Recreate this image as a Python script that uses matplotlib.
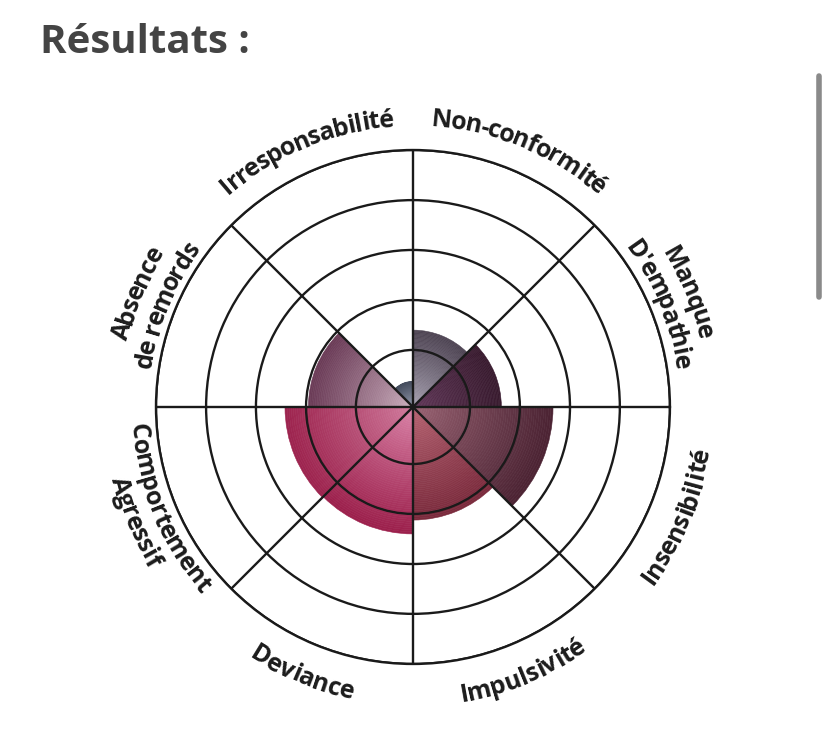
import numpy as np
import matplotlib
matplotlib.use("Agg")
import matplotlib.pyplot as plt
from matplotlib.colors import to_rgb
from matplotlib.font_manager import FontProperties, findfont, get_font
from matplotlib.ft2font import LoadFlags
from matplotlib.lines import Line2D

# secteurs dans l'ordre trigonométrique à partir de l'est (0°)
categories = ["Manque\nD'empathie", "Non-conformité", "Irresponsabilité",
              "Absence\nde remords", "Comportement\nAgressif", "Deviance",
              "Impulsivité", "Insensibilité"]
scores = [34.4, 29.9, 10.0, 40.7, 49.8, 49.4, 44.0, 54.5]   # échelle 0-100
anneaux = [22.2, 41.6, 61.1, 80.5, 100]

couleurs_centre = ["#62385a", "#aaa4b4", "#9aa0b2", "#cdb2c0",
                   "#d27d9f", "#dc86ab", "#b86574", "#9c6575"]
couleurs_bord = ["#381a2e", "#4d4352", "#454d5e", "#6a3a56",
                 "#9d234e", "#9c1f4b", "#7a2a3c", "#4b2333"]

fig = plt.figure(figsize=(8.27, 7.31), dpi=100)
fig.patch.set_facecolor("white")
ax = fig.add_axes([0.1886, 0.0917, 0.6215, 0.7031], projection="polar")

thetas = np.deg2rad(22.5 + 45 * np.arange(len(categories)))
largeur_secteur = np.pi / 4

# dégradé radial: chaque secteur est un empilement de petites barres
n = 60
for th, sc, c0, c1 in zip(thetas, scores, couleurs_centre, couleurs_bord):
    c0, c1 = np.array(to_rgb(c0)), np.array(to_rgb(c1))
    bords = np.linspace(0, sc, n + 1)
    for k in range(n):
        t = ((k + 0.5) / n) ** 0.9
        col = (1 - t) * c0 + t * c1
        ax.bar(th, bords[k + 1] - bords[k], width=largeur_secteur, bottom=bords[k],
               color=col, edgecolor=col, linewidth=0.4, zorder=1)

ax.set_ylim(0, 100)
ax.set_yticks(anneaux)
ax.set_yticklabels([])
ax.set_xticks(np.deg2rad(np.arange(0, 360, 45)))
ax.set_xticklabels([])
ax.tick_params(length=0)
ax.grid(True, color="#1a1a1a", linewidth=1.7)
ax.set_axisbelow(False)
ax.spines["polar"].set_color("#1a1a1a")
ax.spines["polar"].set_linewidth(1.7)

# texte courbé le long du cercle
fp = FontProperties(family="Open Sans", weight="bold", size=18)
serrage = 0.95
police = get_font(findfont(fp))
police.set_size(fp.get_size_in_points(), fig.dpi)
echelle = ax.get_position().width * fig.get_figwidth() * fig.dpi / 2 / 100  # px par unité


def avances(txt):
    res = []
    for c in txt:
        g = police.load_char(ord(c), flags=LoadFlags.NO_HINTING)
        res.append(g.linearHoriAdvance / 65536)
    return np.array(res)


def texte_courbe(txt, angle_deg, rayon_px, vers_exterieur):
    av = avances(txt)
    gauches = np.concatenate([[0], np.cumsum(av)])
    total = gauches[-1]
    fs_px = fp.get_size_in_points() * fig.dpi / 72
    th0 = np.deg2rad(angle_deg)
    for i, ch in enumerate(txt):
        s = ((gauches[i] + gauches[i + 1]) / 2 - total / 2) * serrage
        if vers_exterieur:
            a = th0 - s / rayon_px
            rot = np.rad2deg(a) - 90
            rb = rayon_px - 0.36 * fs_px
        else:
            a = th0 + s / rayon_px
            rot = np.rad2deg(a) + 90
            rb = rayon_px + 0.36 * fs_px
        ax.text(a, rb / echelle, ch, rotation=rot, rotation_mode="anchor",
                ha="center", va="baseline", fontproperties=fp,
                color="#1c1c1c", clip_on=False)


for cat, th in zip(categories, np.rad2deg(thetas)):
    haut = 0 < th < 180
    lignes = cat.split("\n")
    if len(lignes) == 1:
        texte_courbe(lignes[0], th, 290, haut)
    elif haut:
        texte_courbe(lignes[0], th, 302, True)
        texte_courbe(lignes[1], th, 274, True)
    else:
        texte_courbe(lignes[0], th, 274, False)
        texte_courbe(lignes[1], th, 301, False)

fig.text(40 / 827, 1 - 53 / 731, "Résultats :", fontsize=29, fontweight="bold",
         family="Open Sans", color="#444444", ha="left", va="baseline")

# barre de défilement de la capture
fig.add_artist(Line2D([819 / 827] * 2, [1 - 76 / 731, 1 - 297 / 731],
                      transform=fig.transFigure, lw=4, color="#8a8a8a",
                      solid_capstyle="round"))

fig.savefig("out.png", dpi=100)
